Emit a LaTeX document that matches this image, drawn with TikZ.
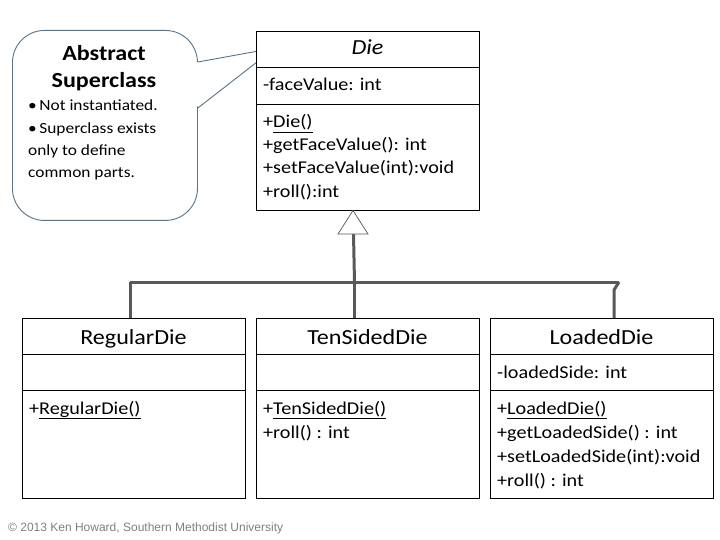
\documentclass[tikz,border=0pt]{standalone}
\usepackage{fontspec}
\setmainfont{Carlito}[FakeStretch=1.12]
\newfontfamily\arialfont{Liberation Sans}
\definecolor{connector}{HTML}{595959}
\definecolor{calloutc}{HTML}{5B7386}
\definecolor{copyc}{HTML}{7F7F7F}
\begin{document}
\begin{tikzpicture}[x=1pt,y=-1pt,
  classbox/.style={draw=black, line width=0.9pt, fill=white, minimum width=223pt, minimum height=180pt, anchor=north west, inner sep=0pt},
  divider/.style={draw=black, line width=0.9pt},
  ctitle/.style={font=\fontsize{21.5}{24}\selectfont, anchor=base, inner sep=0pt},
  member/.style={font=\fontsize{18}{20}\selectfont, anchor=base west, inner sep=0pt},
  gen/.style={draw=connector, line width=3pt},
  calloutbox/.style={draw=calloutc, line width=0.9pt, fill=white, rounded corners=32pt, minimum width=185pt, minimum height=190pt, anchor=north west, inner sep=0pt},
  ctext/.style={font=\fontsize{15.5}{17}\selectfont, anchor=base west, inner sep=0pt},
  ctitletext/.style={font=\bfseries\fontsize{21.5}{24}\selectfont, anchor=base, inner sep=0pt}
]
\useasboundingbox (0,0) rectangle (720,540);

% Callout
\node[calloutbox] (callout) at (12,30) {};
\coordinate (ptip) at (275,48);
\fill[white] (196,62.5) -- (ptip) -- (196,107.5) -- cycle;
\draw[calloutc, line width=0.9pt] (callout.east |- 0,62) -- (ptip) -- (callout.east |- 0,108);
\node[ctitletext] (ab) at (104,61) {Abstract};
\node[ctitletext] (sc) at (104,88) {Superclass};
\node[ctext] (b1) at (28,111) {\textbullet\,Not instantiated.};
\node[ctext] (b2) at (28,134) {\textbullet\,Superclass exists};
\node[ctext] (b3) at (28,156) {only to define};
\node[ctext] (b4) at (28,178) {common parts.};

% Die
\node[classbox, minimum height=179pt] (die) at (256,31) {};
\draw[divider] (die.west |- 0,67) -- (die.east |- 0,67);
\draw[divider] (die.west |- 0,104) -- (die.east |- 0,104);
\node[ctitle, font=\itshape\fontsize{21.5}{24}\selectfont] (dt) at (367.5,55) {Die};
\node[member] (da) at (263,91) {-faceValue: int};
\node[member] (dm1) at (263,128) {+\underline{Die()}};
\node[member] (dm2) at (263,151) {+getFaceValue(): int};
\node[member] (dm3) at (263,174) {+setFaceValue(int):void};
\node[member] (dm4) at (263,197) {+roll():int};

% Subclasses
\node[classbox] (reg) at (22,318) {};
\node[classbox] (ten) at (256,318) {};
\node[classbox] (load) at (490,318) {};
\foreach \b in {reg,ten,load}{
  \draw[divider] (\b.west |- 0,354) -- (\b.east |- 0,354);
  \draw[divider] (\b.west |- 0,390) -- (\b.east |- 0,390);
}
\node[ctitle] (rt) at (133.5,344) {RegularDie};
\node[ctitle] (tt) at (367.5,344) {TenSidedDie};
\node[ctitle] (lt) at (601.5,344) {LoadedDie};
\node[member] (rm1) at (29,414) {+\underline{RegularDie()}};
\node[member] (tm1) at (263,414) {+\underline{TenSidedDie()}};
\node[member] (tm2) at (263,438) {+roll() : int};
\node[member] (la) at (497,378) {-loadedSide: int};
\node[member] (lm1) at (497,414) {+\underline{LoadedDie()}};
\node[member] (lm2) at (497,438) {+getLoadedSide() : int};
\node[member] (lm3) at (497,462) {+setLoadedSide(int):void};
\node[member] (lm4) at (497,486) {+roll() : int};

% Generalization
\coordinate (apex) at (353,210.5);
\coordinate (tbl) at (338,234);
\coordinate (tbr) at (368,234);
\coordinate (tb) at (353.5,234);
\coordinate (junc) at (354.5,282);
\coordinate (barL) at (130,282);
\coordinate (barR) at (619,282);
\coordinate (dropR) at (614,290);
\draw[gen] (tb) -- (junc);
\draw[gen] (barL) -- (barR);
\draw[gen] (barL) -- (barL |- reg.north);
\draw[gen] (junc) -- (junc |- ten.north);
\draw[gen, line join=round] (barR) -- (dropR) -- (dropR |- load.north);
\draw[draw=connector, line width=0.7pt, fill=white] (apex) -- (tbl) -- (tbr) -- cycle;

% Copyright
\node[anchor=base west, inner sep=0pt, text=copyc, font=\arialfont\fontsize{12}{13}\selectfont] (copy) at (8,531) {© 2013 Ken Howard, Southern Methodist University};
\end{tikzpicture}
\end{document}
